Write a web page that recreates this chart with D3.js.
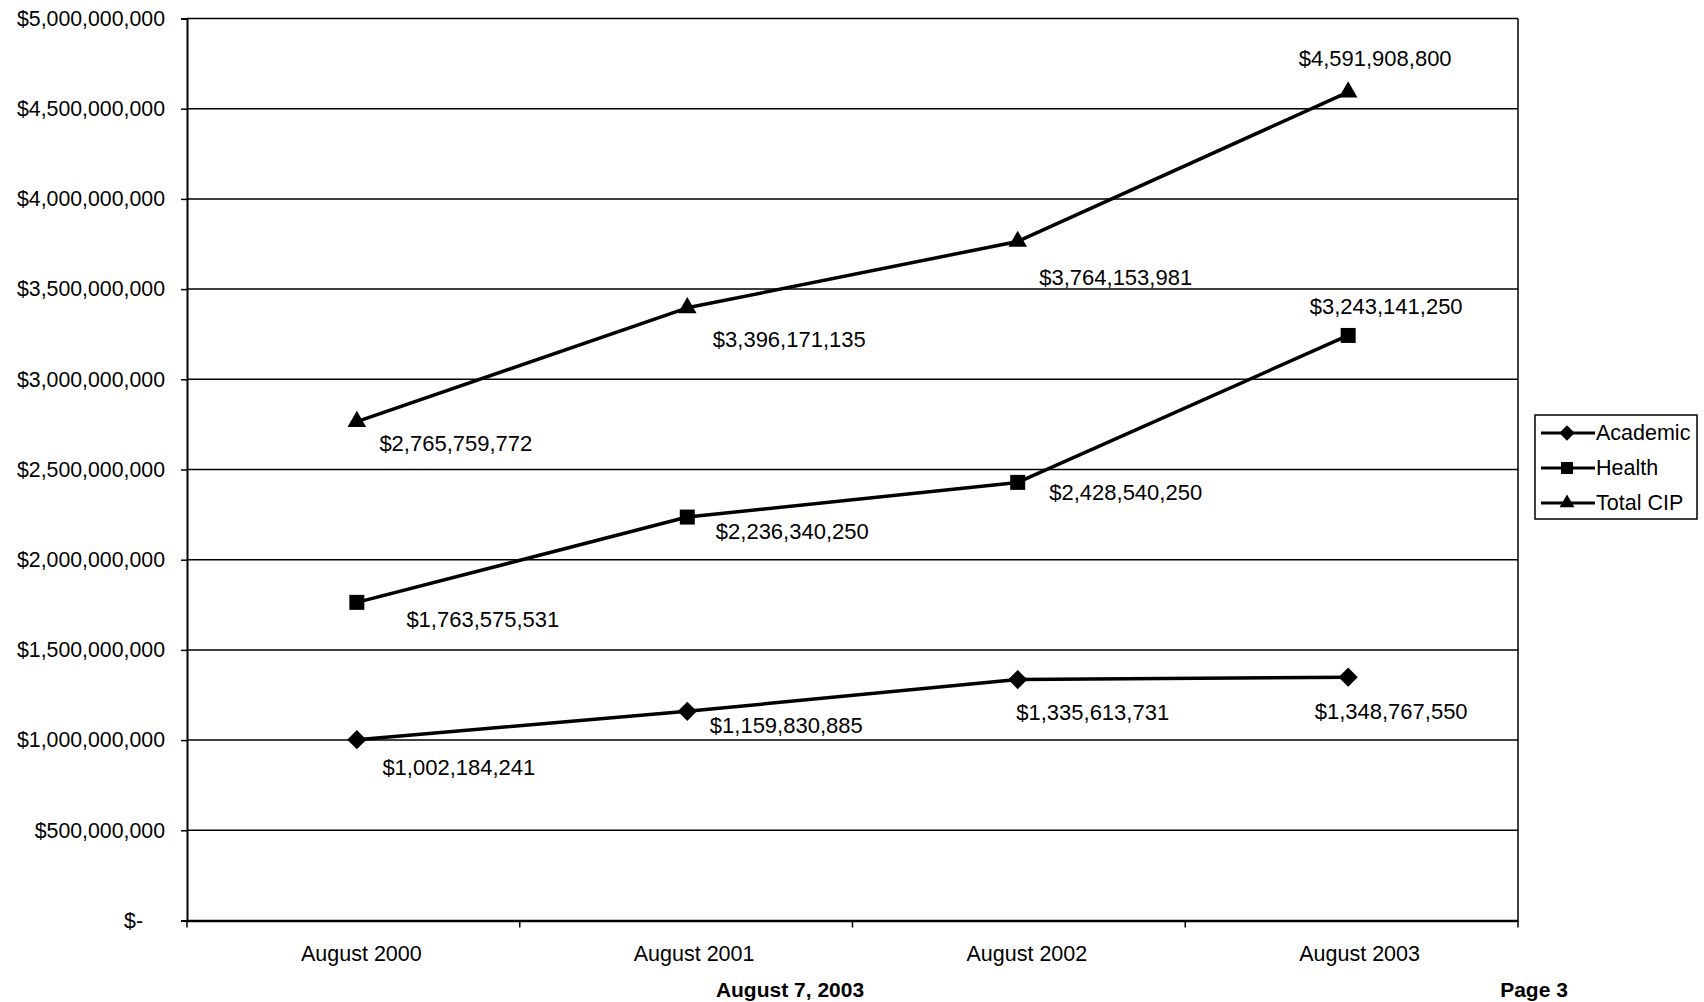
<!DOCTYPE html>
<html>
<head>
<meta charset="utf-8">
<script src="https://cdn.jsdelivr.net/npm/d3@7/dist/d3.min.js"></script>
<style>
  html, body { margin: 0; padding: 0; background: #fff; }
  svg { display: block; font-family: "Liberation Sans", Arial, sans-serif; }
</style>
</head>
<body>
<svg id="chart" width="1704" height="1002"></svg>
<script>
// Capital improvement program totals by reporting month
const categories = ["August 2000", "August 2001", "August 2002", "August 2003"];
const academic = [1002184241, 1159830885, 1335613731, 1348767550];
const health = [1763575531, 2236340250, 2428540250, 3243141250];
const totalCIP = [2765759772, 3396171135, 3764153981, 4591908800];
const seriesNames = ["Academic", "Health", "Total CIP"];
const yTicks = [0, 500000000, 1000000000, 1500000000, 2000000000, 2500000000,
                3000000000, 3500000000, 4000000000, 4500000000, 5000000000];
const footerDate = "August 7, 2003";
const footerPage = "Page 3";

const series = [
  { name: seriesNames[0], values: academic, marker: "diamond" },
  { name: seriesNames[1], values: health, marker: "square" },
  { name: seriesNames[2], values: totalCIP, marker: "triangle" }
];

// Label placement (offset of label centre from its point)
const labelOffsets = {
  "Academic":  [[102, 28], [99, 14], [75, 33], [43, 34]],
  "Health":    [[126, 17], [105, 14], [108, 10], [38, -29]],
  "Total CIP": [[99, 22], [102, 32], [98, 36], [27, -34]]
};

const svg = d3.select("#chart");
const plot = { left: 187, right: 1518, top: 18.5, bottom: 920.5 };

// band scale for the axis ticks, point scale for the data positions
const xBand = d3.scaleBand().domain(categories).range([plot.left, plot.right]);
const x = d3.scalePoint().domain(categories).range([plot.left, plot.right]).padding(0.514);
const y = d3.scaleLinear().domain([0, 5000000000]).range([plot.bottom, plot.top]);

const money = d3.format(",");
const fmt = v => v === 0 ? "$-" : "$" + money(v);

// horizontal gridlines
svg.append("g")
  .selectAll("line")
  .data(yTicks.filter(t => t > 0))
  .join("line")
  .attr("x1", plot.left).attr("x2", plot.right)
  .attr("y1", d => y(d)).attr("y2", d => y(d))
  .attr("stroke", "#000").attr("stroke-width", 1.5);

// right border
svg.append("line")
  .attr("x1", plot.right).attr("x2", plot.right)
  .attr("y1", plot.top).attr("y2", plot.bottom)
  .attr("stroke", "#000").attr("stroke-width", 1.5);

// y axis
const yAxis = d3.axisLeft(y).tickValues(yTicks).tickSize(6).tickPadding(16).tickFormat(fmt);
const gy = svg.append("g").attr("transform", `translate(${plot.left},0)`).call(yAxis);
gy.select(".domain").attr("stroke", "#000").attr("stroke-width", 2);
gy.selectAll(".tick line").attr("stroke", "#000").attr("stroke-width", 1.5);
gy.selectAll(".tick text")
  .attr("fill", "#000")
  .style("font-size", "21.3px")
  .attr("dx", d => d === 0 ? -22 : 0);

// x axis with ticks between categories
const xAxis = d3.axisBottom(xBand).tickSize(0).tickPadding(25);
const gx = svg.append("g").attr("transform", `translate(0,${plot.bottom})`).call(xAxis);
gx.select(".domain").attr("stroke", "#000").attr("stroke-width", 2.5);
gx.selectAll(".tick text").attr("fill", "#000").style("font-size", "21.5px").attr("dx", 8);
const bounds = categories.map(c => xBand(c)).concat([plot.right]);
svg.append("g").selectAll("line")
  .data(bounds)
  .join("line")
  .attr("x1", d => d).attr("x2", d => d)
  .attr("y1", plot.bottom).attr("y2", plot.bottom + 7)
  .attr("stroke", "#000").attr("stroke-width", 1.5);

// marker shapes
const symbolFor = {
  diamond: d3.symbol().type(d3.symbolSquare).size(185),
  square: d3.symbol().type(d3.symbolSquare).size(225),
  triangle: d3.symbol().type(d3.symbolTriangle).size(150)
};
const rotateFor = { diamond: 45, square: 0, triangle: 0 };

const line = d3.line().x((d, i) => x(categories[i])).y(d => y(d));

series.forEach(s => {
  const g = svg.append("g");
  g.append("path")
    .attr("d", line(s.values))
    .attr("fill", "none")
    .attr("stroke", "#000")
    .attr("stroke-width", 3.5)
    .attr("stroke-linejoin", "round");
  g.selectAll("path.marker")
    .data(s.values)
    .join("path")
    .attr("class", "marker")
    .attr("d", symbolFor[s.marker])
    .attr("transform", (d, i) => `translate(${x(categories[i])},${y(d)}) rotate(${rotateFor[s.marker]})`)
    .attr("fill", "#000");
  g.selectAll("text")
    .data(s.values)
    .join("text")
    .attr("x", (d, i) => x(categories[i]) + labelOffsets[s.name][i][0])
    .attr("y", (d, i) => y(d) + labelOffsets[s.name][i][1])
    .attr("text-anchor", "middle")
    .attr("dominant-baseline", "central")
    .style("font-size", "22px")
    .attr("fill", "#000")
    .text(d => fmt(d));
});

// legend
const legend = svg.append("g").attr("transform", "translate(1535,415)");
legend.append("rect")
  .attr("width", 162).attr("height", 104)
  .attr("fill", "#fff").attr("stroke", "#000").attr("stroke-width", 1.5);
series.forEach((s, i) => {
  const ry = 18 + i * 35;
  legend.append("line")
    .attr("x1", 6).attr("x2", 60).attr("y1", ry).attr("y2", ry)
    .attr("stroke", "#000").attr("stroke-width", 3);
  legend.append("path")
    .attr("d", symbolFor[s.marker])
    .attr("transform", `translate(32,${ry}) rotate(${rotateFor[s.marker]}) scale(0.8)`)
    .attr("fill", "#000");
  legend.append("text")
    .attr("x", 61).attr("y", ry)
    .attr("dominant-baseline", "central")
    .style("font-size", "21.5px")
    .attr("fill", "#000")
    .text(s.name);
});

// footer
svg.append("text")
  .attr("x", 790).attr("y", 997)
  .attr("text-anchor", "middle")
  .style("font-size", "21px").style("font-weight", "bold")
  .text(footerDate);
svg.append("text")
  .attr("x", 1534).attr("y", 997)
  .attr("text-anchor", "middle")
  .style("font-size", "21px").style("font-weight", "bold")
  .text(footerPage);
</script>
</body>
</html>
